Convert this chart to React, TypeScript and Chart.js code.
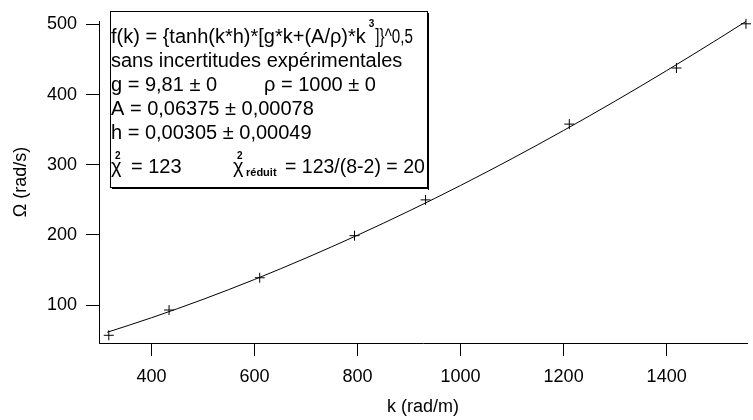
import React, { useEffect, useRef } from "react";
import { Chart, registerables } from "chart.js";

Chart.register(...registerables);

// Measured points (k in rad/m, Omega in rad/s)
const kData = [317, 434, 610, 794, 932, 1211, 1419, 1554];
const omegaData = [57, 93, 139, 199, 250, 358, 438, 501];

// Fitted curve
const fitK = [314, 400, 500, 600, 700, 800, 900, 1000, 1100, 1200, 1300, 1400, 1500, 1554];
const fitOmega = [61.3, 82.0, 108.2, 136.6, 167.2, 199.7, 234.2, 270.6, 308.9, 349.0, 390.8, 434.3, 479.4, 504.4];

const xTicks = [400, 600, 800, 1000, 1200, 1400];
const yTicks = [100, 200, 300, 400, 500];

const xTitle = "k (rad/m)";
const yTitle = "Ω (rad/s)";

const line1a = "f(k) = {tanh(k*h)*[g*k+(A/ρ)*k";
const line1sup = "3";
const line1b = "]}^0,5";
const line2 = "sans incertitudes expérimentales";
const line3a = "g = 9,81 ± 0";
const line3b = "ρ = 1000 ± 0";
const line4 = "A = 0,06375 ± 0,00078";
const line5 = "h = 0,00305 ± 0,00049";
const chi = "χ";
const chiSup = "2";
const chiText1 = "= 123";
const chiSub = "réduit";
const chiText2 = "= 123/(8-2) = 20";

const FONT = '"Liberation Sans", Arial, sans-serif';

const textBoxPlugin = {
  id: "textBox",
  afterDraw(chart: any) {
    const ctx = chart.ctx as CanvasRenderingContext2D;
    ctx.save();
    const L = 110, T = 11, R = 428, B = 188;
    ctx.fillStyle = "#fff";
    ctx.fillRect(L, T, R - L, B - T);
    ctx.strokeStyle = "#000";
    ctx.lineWidth = 1;
    ctx.strokeRect(L + 0.5, T + 0.5, R - L - 1, B - T - 1);
    ctx.fillStyle = "#000";
    ctx.fillRect(R, T + 2, 1, B - T);
    ctx.fillRect(L + 2, B, R - L - 1, 1);

    ctx.textBaseline = "alphabetic";
    ctx.textAlign = "left";
    const big = `20px ${FONT}`;
    const small = `bold 10px ${FONT}`;
    const x0 = 111;

    ctx.font = big;
    ctx.fillText(line1a, x0, 43);
    const w = ctx.measureText(line1a).width;
    ctx.font = small;
    ctx.fillText(line1sup, x0 + w + 3, 27);
    const ws = ctx.measureText(line1sup).width;
    ctx.font = big;
    ctx.save();
    ctx.translate(x0 + w + ws + 4, 43);
    ctx.scale(0.76, 1);
    ctx.fillText(line1b, 0, 0);
    ctx.restore();

    ctx.fillText(line2, x0, 67);
    ctx.fillText(line3a, x0, 91);
    ctx.fillText(line3b, 264, 91);
    ctx.fillText(line4, x0, 115);
    ctx.fillText(line5, x0, 139);

    // chi-square line
    ctx.font = big;
    ctx.fillText(chi, x0, 173);
    ctx.font = small;
    ctx.fillText(chiSup, 115, 159);
    ctx.font = big;
    ctx.fillText(chiText1, 131, 173);

    ctx.fillText(chi, 233, 173);
    ctx.font = small;
    ctx.fillText(chiSup, 237, 159);
    ctx.font = `bold 11px ${FONT}`;
    ctx.fillText(chiSub, 246, 176);
    ctx.font = `19.5px ${FONT}`;
    ctx.fillText(chiText2, 285, 173);
    ctx.restore();
  },
};

export default function App() {
  const canvasRef = useRef<HTMLCanvasElement | null>(null);

  useEffect(() => {
    if (!canvasRef.current) return;
    const chart = new Chart(canvasRef.current, {
      type: "scatter",
      data: {
        datasets: [
          {
            label: "fit",
            data: fitK.map((k, i) => ({ x: k, y: fitOmega[i] })),
            showLine: true,
            borderColor: "#000",
            borderWidth: 1,
            pointRadius: 0,
            cubicInterpolationMode: "monotone",
            clip: false,
          } as any,
          {
            label: "data",
            data: kData.map((k, i) => ({ x: k, y: omegaData[i] })),
            showLine: false,
            pointStyle: "cross",
            pointRadius: 5,
            borderColor: "#000",
            backgroundColor: "#000",
            borderWidth: 1,
            clip: false,
          } as any,
        ],
      },
      options: {
        responsive: false,
        animation: false,
        layout: { padding: { top: 21, right: 1, left: 0, bottom: 0 } },
        plugins: {
          legend: { display: false },
          tooltip: { enabled: false },
        },
        scales: {
          x: {
            type: "linear",
            min: 298,
            max: 1556,
            afterFit: (s: any) => {
              s.height = 77;
            },
            afterBuildTicks: (s: any) => {
              s.ticks = xTicks.map((v) => ({ value: v }));
            },
            ticks: {
              color: "#000",
              font: { family: FONT, size: 18 },
              padding: 10,
              maxRotation: 0,
              includeBounds: false,
              callback: (v: any) => String(v),
            },
            grid: {
              drawOnChartArea: false,
              drawTicks: true,
              tickLength: 13,
              tickColor: "#000",
              tickWidth: 1,
            },
            border: { display: true, color: "#000", width: 1 },
            title: {
              display: true,
              text: xTitle,
              color: "#000",
              font: { family: FONT, size: 18 },
              padding: { top: 2, bottom: 2 },
            },
          },
          y: {
            type: "linear",
            min: 46,
            max: 505,
            afterFit: (s: any) => {
              s.width = 99;
            },
            afterBuildTicks: (s: any) => {
              s.ticks = yTicks.map((v) => ({ value: v }));
            },
            ticks: {
              color: "#000",
              font: { family: FONT, size: 18 },
              padding: 9,
              includeBounds: false,
              callback: (v: any) => String(v),
            },
            grid: {
              drawOnChartArea: false,
              drawTicks: true,
              tickLength: 13,
              tickColor: "#000",
              tickWidth: 1,
            },
            border: { display: true, color: "#000", width: 1 },
            title: {
              display: true,
              text: yTitle,
              color: "#000",
              font: { family: FONT, size: 18 },
              padding: { top: 10, bottom: 10 },
            },
          },
        },
      },
      plugins: [textBoxPlugin],
    });
    return () => chart.destroy();
  }, []);

  return (
    <div style={{ position: "absolute", left: 0, top: 0, width: 753, height: 420, background: "#fff" }}>
      <canvas ref={canvasRef} width={753} height={420} style={{ display: "block" }} />
    </div>
  );
}
